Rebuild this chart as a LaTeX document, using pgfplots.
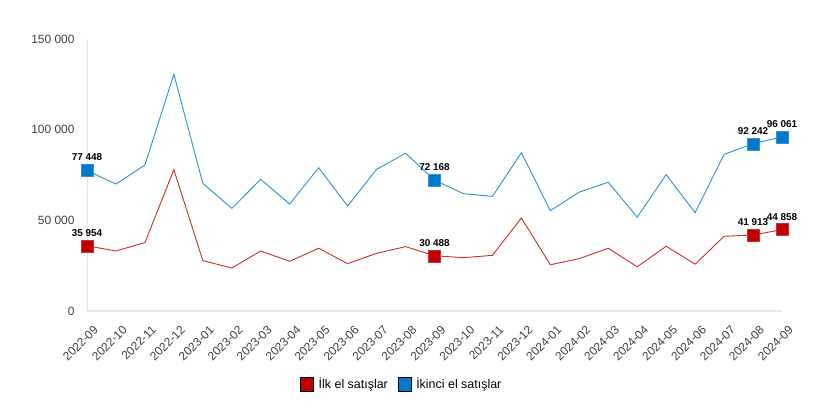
\documentclass[border=0pt]{standalone}
\usepackage{pgfplots}
\pgfplotsset{compat=1.18}
\usepackage{pgfplotstable}
\usepackage{fontspec}
\setmainfont{Liberation Sans}
\definecolor{redline}{HTML}{D02A2A}
\definecolor{redmark}{HTML}{C00000}
\definecolor{blueline}{HTML}{2690D8}
\definecolor{bluemark}{HTML}{0078CC}
\definecolor{axisgray}{HTML}{E6E6E6}
\definecolor{ticktext}{HTML}{404040}

\pgfplotstableread{
x ilk ikinci
0 35954 77448
1 33100 70000
2 37700 80500
3 77900 130500
4 27800 70400
5 23700 56600
6 33100 72600
7 27400 59000
8 34600 79000
9 26100 57900
10 31800 78100
11 35500 87000
12 30488 72168
13 29400 64700
14 30700 63200
15 51300 87300
16 25500 55300
17 28900 65600
18 34600 71000
19 24400 51800
20 35700 75200
21 25800 54200
22 41200 86400
23 41913 92242
24 44858 96061
}\data

\pgfplotstableread{
x y lab
0 35954 {35 954}
12 30488 {30 488}
23 41913 {41 913}
24 44858 {44 858}
}\redpts

\pgfplotstableread{
x y lab
0 77448 {77 448}
12 72168 {72 168}
23 92242 {92 242}
24 96061 {96 061}
}\bluepts

\begin{document}
\begin{tikzpicture}
\begin{axis}[
  at={(0,0)}, anchor=south west,
  scale only axis, width=695bp, height=272bp,
  xmin=0, xmax=24, ymin=0, ymax=150000,
  axis lines*=left,
  x axis line style={axisgray, line width=1.6pt},
  y axis line style={axisgray, line width=0.8pt},
  major tick length=0pt,
  scaled y ticks=false,
  ytick={0,50000,100000,150000},
  yticklabels={0,50 000,100 000,150 000},
  yticklabel style={font=\fontsize{12}{14}\selectfont, color=ticktext, xshift=-9bp},
  xtick={0,...,24},
  xticklabels={2022-09,2022-10,2022-11,2022-12,2023-01,2023-02,2023-03,2023-04,2023-05,2023-06,2023-07,2023-08,2023-09,2023-10,2023-11,2023-12,2024-01,2024-02,2024-03,2024-04,2024-05,2024-06,2024-07,2024-08,2024-09},
  xticklabel style={xshift=6bp, yshift=-12bp, rotate=45, anchor=north east, font=\fontsize{12}{14}\selectfont, color=ticktext, inner sep=1pt},
  clip=false,
  legend columns=2,
  legend style={at={(0.453,-0.268)}, anchor=center, draw=none, fill=none,
    font=\fontsize{12.5}{14}\selectfont, text=black,
    /tikz/every odd column/.append style={column sep=3bp},
    /tikz/every even column/.append style={column sep=8bp}},
  legend image code/.code={\fill[#1] (0bp,-7bp) rectangle (13bp,7bp);},
]
\addplot[forget plot, blueline, line width=0.9pt] table[x=x, y=ikinci] {\data};
\addplot[forget plot, redline, line width=0.9pt] table[x=x, y=ilk] {\data};
\addplot[forget plot, only marks, mark=square*, mark size=6bp, mark options={fill=bluemark, draw=bluemark!80!white},
  point meta=explicit symbolic,
  nodes near coords, nodes near coords style={font=\bfseries\fontsize{10}{12}\selectfont, text=black, yshift=6bp}]
  table[x=x, y=y, meta=lab] {\bluepts};
\addplot[forget plot, only marks, mark=square*, mark size=6bp, mark options={fill=redmark, draw=redmark!80!white},
  point meta=explicit symbolic,
  nodes near coords, nodes near coords style={font=\bfseries\fontsize{10}{12}\selectfont, text=black, yshift=6bp}]
  table[x=x, y=y, meta=lab] {\redpts};
\addlegendimage{fill=redmark}
\addlegendentry{İlk el satışlar}
\addlegendimage{fill=bluemark}
\addlegendentry{İkinci el satışlar}
\end{axis}
\path[use as bounding box] (-87bp,-99bp) rectangle (733bp,311bp);
\end{tikzpicture}
\end{document}
